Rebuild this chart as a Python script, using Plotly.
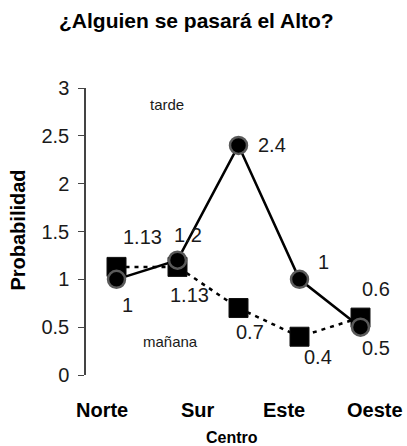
import plotly.graph_objects as go

# Data
positions = [1, 2, 3, 4, 5]
tarde = [1.0, 1.2, 2.4, 1.0, 0.5]
manana = [1.13, 1.13, 0.7, 0.4, 0.6]
tarde_labels = ["1", "1.2", "2.4", "1", "0.5"]
manana_labels = ["1.13", "1.13", "0.7", "0.4", "0.6"]
categories = ["Norte", "Sur", "Este", "Oeste"]
category_pos = [0.76, 2.34, 3.75, 5.24]
y_ticks = [0, 0.5, 1, 1.5, 2, 2.5, 3]
y_ticktext = ["0", "0.5", "1", "1.5", "2", "2.5", "3"]

# label offsets in pixels (dx, dy) - style only
tarde_off = [(11, -26), (10, 25), (33, 0), (24, 17), (15, -21)]
manana_off = [(26, 30), (12, -28), (11, -24), (18, -20), (15, 29)]

FONT = "Liberation Sans, Arial, sans-serif"

fig = go.Figure()
fig.add_trace(go.Scatter(
    x=positions, y=manana, mode="lines+markers", name="mañana",
    line=dict(color="black", width=2.5, dash="4px,5px"),
    marker=dict(symbol="square", size=19, color="black", line=dict(color="#111", width=1)),
))
fig.add_trace(go.Scatter(
    x=positions, y=tarde, mode="lines+markers", name="tarde",
    line=dict(color="black", width=2.5),
    marker=dict(symbol="circle", size=17, color="black", line=dict(color="#5a5a5a", width=2.5)),
))

C = dict(xanchor="center", yanchor="middle", showarrow=False)
annotations = []
for x, y, t, (dx, dy) in zip(positions, tarde, tarde_labels, tarde_off):
    annotations.append(dict(x=x, y=y, xref="x", yref="y", text=t, **C,
                            xshift=dx, yshift=dy, font=dict(family=FONT, size=20, color="#1a1a1a")))
for x, y, t, (dx, dy) in zip(positions, manana, manana_labels, manana_off):
    annotations.append(dict(x=x, y=y, xref="x", yref="y", text=t, **C,
                            xshift=dx, yshift=dy, font=dict(family=FONT, size=20, color="#1a1a1a")))
for c, p in zip(categories, category_pos):
    annotations.append(dict(x=p, y=(375 - 410) / 287, xref="x", yref="paper", text="<b>%s</b>" % c,
                            **C, font=dict(family=FONT, size=20, color="black")))
annotations.append(dict(x=(232 - 86) / 305, y=(375 - 437) / 287, xref="paper", yref="paper",
                        text="<b>Centro</b>", **C, font=dict(family=FONT, size=16, color="black")))
annotations.append(dict(x=(18.5 - 86) / 305, y=0.505, xref="paper", yref="paper", text="<b>Probabilidad</b>",
                        textangle=-90, **C, font=dict(family=FONT, size=20, color="black")))
annotations.append(dict(x=(196 - 86) / 305, y=(375 - 21) / 287, xref="paper", yref="paper",
                        text="<b>¿Alguien se pasará el Alto?</b>",
                        **C, font=dict(family=FONT, size=21, color="black")))
annotations.append(dict(x=(167 - 86) / 305, y=(375 - 104) / 287, xref="paper", yref="paper", text="tarde",
                        **C, font=dict(family=FONT, size=15, color="#1a1a1a")))
annotations.append(dict(x=(170 - 86) / 305, y=(375 - 341) / 287, xref="paper", yref="paper", text="mañana",
                        **C, font=dict(family=FONT, size=15, color="#1a1a1a")))

fig.update_layout(
    width=407, height=446,
    margin=dict(l=86, r=16, t=88, b=71),
    paper_bgcolor="white", plot_bgcolor="white",
    showlegend=False,
    annotations=annotations,
    xaxis=dict(range=[0.5, 5.5], showline=False, showgrid=False, zeroline=False,
               showticklabels=False, ticks=""),
    yaxis=dict(range=[0, 3], tickvals=y_ticks, ticktext=y_ticktext, showline=True,
               linecolor="#444", linewidth=1.5, ticks="outside", ticklen=6, tickcolor="#444",
               ticklabelstandoff=5, showgrid=False, zeroline=False,
               tickfont=dict(family=FONT, size=20, color="#1a1a1a")),
)
fig.write_html(
    "out.html",
    config={"displayModeBar": False},
    post_script="document.body.style.margin='0px';document.documentElement.style.overflow='hidden';",
)
